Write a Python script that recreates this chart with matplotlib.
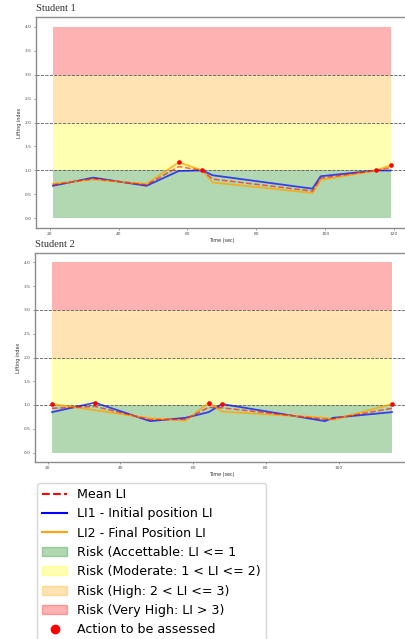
import matplotlib
matplotlib.use('Agg')
import matplotlib.pyplot as plt
import matplotlib.patches as mpatches
from matplotlib.lines import Line2D

# Student 1
t1 = [20.9, 32.6, 48.1, 57.5, 64.3, 67.3, 96.3, 98.7, 114.9, 119.0]
li1_s1 = [0.68, 0.85, 0.68, 0.99, 1.00, 0.90, 0.62, 0.88, 1.00, 1.00]
li2_s1 = [0.72, 0.81, 0.72, 1.17, 1.00, 0.75, 0.53, 0.80, 1.00, 1.11]
mean_s1 = [0.70, 0.83, 0.70, 1.08, 1.00, 0.82, 0.57, 0.84, 1.00, 1.06]
act_t1 = [57.5, 64.3, 114.9, 119.0]
act_v1 = [1.17, 1.01, 1.00, 1.11]

# Student 2
t2 = [21.2, 33.0, 48.2, 57.9, 64.3, 68.0, 96.3, 98.5, 114.7]
li1_s2 = [0.85, 1.05, 0.66, 0.73, 0.85, 1.02, 0.66, 0.73, 0.85]
li2_s2 = [1.02, 0.89, 0.72, 0.67, 1.05, 0.86, 0.73, 0.69, 1.02]
mean_s2 = [0.93, 0.97, 0.69, 0.70, 0.95, 0.94, 0.70, 0.71, 0.93]
act_t2 = [21.2, 33.0, 64.3, 68.0, 114.7]
act_v2 = [1.02, 1.05, 1.05, 1.02, 1.02]

bands = [(0, 1, 'green'), (1, 2, 'yellow'), (2, 3, 'orange'), (3, 4, 'red')]
band_labels = ['Risk (Accettable: LI <= 1', 'Risk (Moderate: 1 < LI <= 2)',
               'Risk (High: 2 < LI <= 3)', 'Risk (Very High: LI > 3)']

W, H = 406, 639
fig = plt.figure(figsize=(W / 100, H / 100), dpi=100)
ax1 = fig.add_axes([36 / W, 1 - 228 / H, 371.5 / W, 211 / H])
ax2 = fig.add_axes([35 / W, 1 - 462 / H, 374 / W, 209 / H])


def draw(ax, t, li1, li2, mean, at, av, title):
    for lo, hi, c in bands:
        ax.fill_between(t, lo, hi, color=c, alpha=0.3, lw=0)
    for y in (1, 2, 3):
        ax.axhline(y, color='0.35', lw=0.6, ls='--')
    ax.plot(t, li1, color='blue', lw=1.3, alpha=0.7)
    ax.plot(t, li2, color='orange', lw=1.3, alpha=0.8)
    ax.plot(t, mean, color='red', lw=1.1, ls='--', alpha=0.6)
    ax.scatter(at, av, color='red', s=11, zorder=5, lw=0)
    ax.set_ylim(-0.2, 4.2)
    ax.set_yticks([0, 0.5, 1, 1.5, 2, 2.5, 3, 3.5, 4])
    ax.tick_params(labelsize=3.2, length=1.5, width=0.4, pad=1.5,
                   colors='0.3')
    ax.set_xlabel('Time (sec)', fontsize=3.5, labelpad=1.5, color='0.2')
    ax.set_ylabel('Lifting index', fontsize=3.5, labelpad=2, color='0.2')
    ax.set_title(title, loc='left', fontsize=7.5, family='Liberation Serif',
                 pad=4, color='0.2')
    for s in ax.spines.values():
        s.set_color('0.55')
        s.set_linewidth(1.0)
    ax.spines['right'].set_visible(False)


draw(ax1, t1, li1_s1, li2_s1, mean_s1, act_t1, act_v1, 'Student 1')
draw(ax2, t2, li1_s2, li2_s2, mean_s2, act_t2, act_v2, 'Student 2')

handles = [
    Line2D([], [], color='red', ls='--', lw=1.5),
    Line2D([], [], color='blue', lw=1.5),
    Line2D([], [], color='orange', lw=1.5),
] + [mpatches.Patch(color=c, alpha=0.3) for _, _, c in bands] + [
    Line2D([], [], color='red', marker='o', ls='none', markersize=6),
]
labels = ['Mean LI', 'LI1 - Initial position LI', 'LI2 - Final Position LI'] \
    + band_labels + ['Action to be assessed']
fig.legend(handles, labels, loc='upper left', fontsize=9.1,
           bbox_to_anchor=(37 / W, 1 - 483 / H), borderaxespad=0,
           labelspacing=0.5, handlelength=2.0)

fig.savefig('out.png', dpi=100)
